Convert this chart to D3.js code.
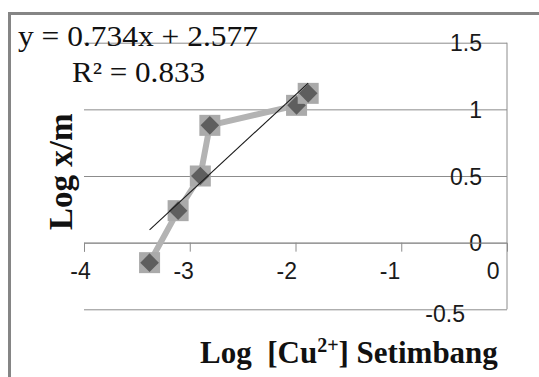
<!DOCTYPE html>
<html>
<head>
<meta charset="utf-8">
<script src="https://cdn.jsdelivr.net/npm/d3@7"></script>
<style>
  html, body { margin: 0; padding: 0; background: #fff; }
  svg { display: block; }
</style>
</head>
<body>
<svg id="chart" width="539" height="377"></svg>
<script>
// ---- data ----
const logCu = [-3.38, -3.11, -2.90, -2.81, -1.99, -1.88];
const logXM = [-0.15, 0.24, 0.50, 0.88, 1.03, 1.12];
const trendSlope = 0.734;
const trendIntercept = 2.577;
const xTickValues = [-4, -3, -2, -1, 0];
const yTickValues = [-0.5, 0, 0.5, 1, 1.5];
const equationText = "y = 0.734x + 2.577";
const r2Text = "R\u00b2 = 0.833";

const svg = d3.select("#chart");

// outer chart border (cropped on right/bottom)
svg.append("rect")
  .attr("x", 9.5).attr("y", 13.5).attr("width", 700).attr("height", 700)
  .attr("fill", "none").attr("stroke", "#858585").attr("stroke-width", 3);

const x = d3.scaleLinear().domain([-4, 0]).range([84, 507]);
const y = d3.scaleLinear().domain([-0.5, 1.5]).range([309.3, 42.7]);

// horizontal gridlines
const grid = svg.append("g")
  .attr("transform", `translate(${x(-4)},0)`)
  .call(d3.axisLeft(y).tickValues(yTickValues).tickSize(-(x(0) - x(-4))).tickFormat(""));
grid.select(".domain").remove();
grid.selectAll(".tick line").attr("stroke", "#8c8c8c").attr("stroke-width", 1);

// vertical axis at x = 0
svg.append("line")
  .attr("x1", x(0)).attr("x2", x(0)).attr("y1", y(1.5)).attr("y2", y(-0.5))
  .attr("stroke", "#8c8c8c").attr("stroke-width", 1);

// y tick labels
const yAx = svg.append("g")
  .attr("transform", `translate(${x(0)},0)`)
  .call(d3.axisLeft(y).tickValues(yTickValues).tickSize(0).tickPadding(25)
        .tickFormat(d => String(d)));
yAx.select(".domain").remove();
yAx.selectAll("text")
  .attr("font-family", "Liberation Sans, Arial, sans-serif")
  .attr("font-size", 23).attr("fill", "#1a1a1a")
  .attr("dx", d => d === -0.5 ? -17 : 0)
  .attr("dy", d => d === -0.5 ? "0.55em" : "0.35em");

// x axis (at y = 0) with downward tick marks
const xAx = svg.append("g")
  .attr("transform", `translate(0,${y(0)})`)
  .call(d3.axisBottom(x).tickValues(xTickValues).tickSize(9).tickPadding(20)
        .tickFormat(d => String(d)));
xAx.select(".domain").attr("stroke", "#8c8c8c");
xAx.selectAll(".tick line").attr("stroke", "#8c8c8c").attr("stroke-width", 1)
  .attr("display", d => d === 0 ? "none" : null);
xAx.selectAll("text")
  .attr("font-family", "Liberation Sans, Arial, sans-serif")
  .attr("font-size", 23).attr("fill", "#1a1a1a")
  .attr("dy", "0.3em")
  .attr("dx", d => -4 - 2.6 * (d + 4));

// connecting line (thick grey)
const pts = logCu.map((v, i) => [v, logXM[i]]);
svg.append("path")
  .datum(pts)
  .attr("d", d3.line().x(d => x(d[0])).y(d => y(d[1])))
  .attr("fill", "none").attr("stroke", "#b3b3b3").attr("stroke-width", 6)
  .attr("stroke-linejoin", "round");

// markers: light square with dark diamond
const mk = svg.append("g").selectAll("g").data(pts).join("g")
  .attr("transform", d => `translate(${x(d[0])},${y(d[1])})`);
mk.append("rect").attr("x", -10.5).attr("y", -10.5).attr("width", 21).attr("height", 21)
  .attr("fill", "#aaaaaa");
mk.append("path").attr("d", d3.symbol(d3.symbolDiamond2, 220)())
  .attr("fill", "#5e5e5e");

// linear trendline
const xMin = d3.min(logCu), xMax = d3.max(logCu);
svg.append("line")
  .attr("x1", x(xMin)).attr("y1", y(trendSlope * xMin + trendIntercept))
  .attr("x2", x(xMax)).attr("y2", y(trendSlope * xMax + trendIntercept))
  .attr("stroke", "#1a1a1a").attr("stroke-width", 1.1);

// equation text
svg.append("text")
  .attr("x", 18).attr("y", 46)
  .attr("font-family", "Liberation Serif, Times New Roman, serif")
  .attr("font-size", 29).attr("fill", "#111")
  .attr("textLength", 240).attr("lengthAdjust", "spacingAndGlyphs")
  .text(equationText);
svg.append("text")
  .attr("x", 72).attr("y", 82)
  .attr("font-family", "Liberation Serif, Times New Roman, serif")
  .attr("font-size", 29).attr("fill", "#111")
  .attr("textLength", 133).attr("lengthAdjust", "spacingAndGlyphs")
  .text(r2Text);

// y axis title
svg.append("text")
  .attr("transform", "translate(72,230) rotate(-90)")
  .attr("font-family", "Liberation Serif, Times New Roman, serif")
  .attr("font-size", 33).attr("font-weight", "bold").attr("fill", "#111")
  .text("Log x/m");

// x axis title
const xt = svg.append("text")
  .attr("x", 200).attr("y", 363)
  .attr("font-family", "Liberation Serif, Times New Roman, serif")
  .attr("font-size", 31).attr("font-weight", "bold").attr("fill", "#111")
  .style("white-space", "pre");
xt.append("tspan").text("Log\u00a0 [Cu");
xt.append("tspan").attr("font-size", 20).attr("dy", -11).text("2+");
xt.append("tspan").attr("dy", 11).text("] Setimbang");
</script>
</body>
</html>
